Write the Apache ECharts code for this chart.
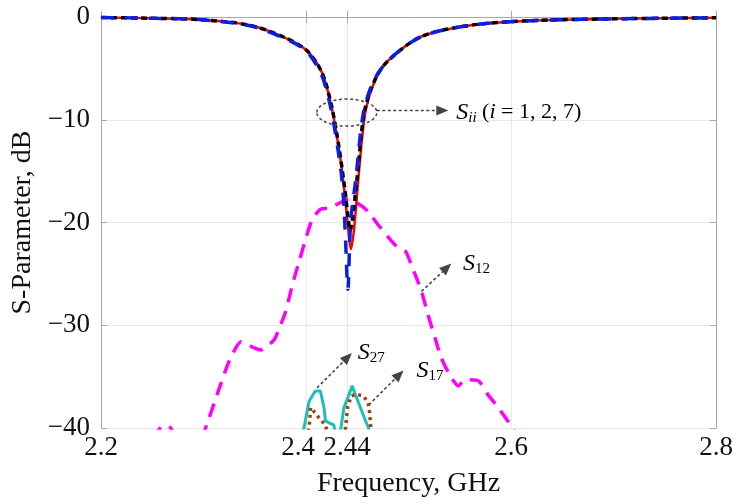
<!DOCTYPE html>
<html>
<head>
<meta charset="utf-8">
<script src="https://cdn.jsdelivr.net/npm/echarts@6/dist/echarts.min.js"></script>
<style>
  html, body { margin: 0; padding: 0; background: #fff; }
  #chart { width: 736px; height: 503px; }
</style>
</head>
<body>
<div id="chart"></div>
<script>
// tick values
const xTicks = [2.2, 2.4, 2.44, 2.6, 2.8];
const yMin = -40, yMax = 0, yStep = 10;

// S_ii curves, [GHz, dB]
const siiRed = [
  [2.20, -0.05], [2.25, -0.12], [2.296, -0.25], [2.345, -0.8], [2.377, -1.9],
  [2.40, -3.2], [2.4155, -5.4], [2.425, -8.8], [2.432, -12.8], [2.437, -16.5],
  [2.441, -20.5], [2.4437, -22.6], [2.447, -20.5], [2.4515, -15.2], [2.458, -9.2],
  [2.4677, -6.1], [2.4806, -4.2], [2.5126, -1.9], [2.561, -0.8], [2.619, -0.36],
  [2.70, -0.18], [2.80, -0.08]
];
const siiBlack = [
  [2.20, -0.05], [2.25, -0.12], [2.296, -0.25], [2.345, -0.8], [2.377, -1.9],
  [2.40, -3.2], [2.4155, -5.4], [2.425, -8.7], [2.432, -12.6], [2.4375, -16.5],
  [2.441, -19.5], [2.443, -20.8], [2.4455, -19.5], [2.45, -15.5], [2.457, -9.2],
  [2.4677, -6.0], [2.4806, -4.2], [2.5126, -1.9], [2.561, -0.8], [2.619, -0.36],
  [2.70, -0.18], [2.80, -0.08]
];
const siiBlue = [
  [2.20, -0.05], [2.25, -0.12], [2.296, -0.25], [2.345, -0.85], [2.377, -2.0],
  [2.40, -3.3], [2.415, -5.6], [2.424, -8.8], [2.431, -12.8], [2.435, -15.8],
  [2.437, -18.5], [2.4385, -21.6], [2.4408, -26.5], [2.4435, -20.0], [2.4485, -15.8],
  [2.456, -9.3], [2.466, -6.2], [2.4806, -4.2], [2.5126, -1.9], [2.561, -0.8],
  [2.619, -0.36], [2.70, -0.18], [2.80, -0.08]
];

// S12 magenta dashed
const s12 = [
  [2.25, -41], [2.258, -40], [2.263, -39.7], [2.268, -40], [2.275, -41.5],
  [2.295, -41.5], [2.303, -39.7], [2.3155, -36.1], [2.325, -33.5], [2.3366, -31.6],
  [2.3495, -32.2], [2.356, -32.4], [2.369, -31.4], [2.3738, -30.3], [2.380, -28.7],
  [2.3866, -26.1], [2.3932, -23.8], [2.3997, -21.6], [2.406, -19.7], [2.4143, -18.7],
  [2.4223, -18.6], [2.435, -18.0], [2.4417, -17.7], [2.4544, -18.4], [2.461, -19.0],
  [2.471, -20.3], [2.487, -22.2], [2.497, -22.8], [2.503, -24.2], [2.5126, -26.7],
  [2.519, -29.0], [2.526, -31.3], [2.532, -33.2], [2.541, -35.0], [2.5485, -35.9],
  [2.555, -35.3], [2.568, -35.4], [2.5777, -36.8], [2.5874, -38.0], [2.60, -39.8],
  [2.61, -41.5]
];

// S27 cyan solid
const s27 = [
  [2.395, -41], [2.398, -40], [2.403, -37.4], [2.409, -36.4], [2.414, -36.4],
  [2.4175, -38], [2.419, -39.3], [2.4225, -39.5], [2.427, -39.7], [2.430, -41],
  [2.431, -41], [2.434, -40], [2.437, -38], [2.4417, -36.8], [2.445, -35.9],
  [2.4483, -36.8], [2.453, -38], [2.458, -39.3], [2.461, -40], [2.463, -41]
];

// S17 brown dotted
const s17 = [
  [2.400, -41], [2.403, -40], [2.4045, -38], [2.407, -38.3], [2.411, -38.8],
  [2.415, -39.3], [2.419, -39.7], [2.422, -41], [2.436, -41], [2.4385, -40],
  [2.4405, -38], [2.444, -36.9], [2.449, -36.7], [2.456, -36.9], [2.4605, -37.5],
  [2.462, -38.5], [2.463, -39.7], [2.4645, -41]
];

const serif = 'Liberation Serif';
const axisGray = '#a8a8a8';
const chart = echarts.init(document.getElementById('chart'), null, { renderer: 'canvas' });

const minus = v => String(v).replace('-', '\u2212');
// 2.4 sits left of its tick in the reference so it doesn't run into 2.44
const xLabel = v => (v === 2.4 ? '{l|2.4}' : String(v));

const option = {
  animation: false,
  backgroundColor: '#fff',
  grid: { left: 101, right: 17, top: 17, bottom: 73, containLabel: false },
  xAxis: [
    {
      type: 'value', min: 2.2, max: 2.8,
      name: 'Frequency, GHz', nameLocation: 'middle', nameGap: 42,
      nameTextStyle: { fontFamily: serif, fontSize: 28, color: '#111' },
      axisLine: { lineStyle: { color: axisGray, width: 1 } },
      axisTick: { inside: true, length: 6, customValues: xTicks, lineStyle: { color: axisGray } },
      axisLabel: { customValues: xTicks, margin: 6, fontFamily: serif, fontSize: 27, color: '#111',
        formatter: xLabel,
        rich: { l: { fontFamily: serif, fontSize: 27, color: '#111', padding: [0, 16, 0, 0] } } },
      splitLine: { show: true, lineStyle: { color: '#e8e8e8', width: 1 } }
    },
    {
      type: 'value', min: 2.2, max: 2.8, position: 'top',
      axisLine: { lineStyle: { color: axisGray, width: 1 } },
      axisTick: { inside: true, length: 6, customValues: xTicks, lineStyle: { color: axisGray } },
      axisLabel: { show: false },
      splitLine: { show: false }
    }
  ],
  yAxis: [
    {
      type: 'value', min: yMin, max: yMax, interval: yStep,
      name: 'S-Parameter, dB', nameLocation: 'middle', nameGap: 60,
      nameTextStyle: { fontFamily: serif, fontSize: 28, color: '#111' },
      axisLine: { show: true, lineStyle: { color: axisGray, width: 1 } },
      axisTick: { show: true, inside: true, length: 6, lineStyle: { color: axisGray } },
      axisLabel: { margin: 11, fontFamily: serif, fontSize: 27, color: '#111', formatter: minus },
      splitLine: { show: true, lineStyle: { color: '#e8e8e8', width: 1 } }
    },
    {
      type: 'value', min: yMin, max: yMax, interval: yStep, position: 'right',
      axisLine: { show: true, lineStyle: { color: axisGray, width: 1 } },
      axisTick: { show: true, inside: true, length: 6, lineStyle: { color: axisGray } },
      axisLabel: { show: false },
      splitLine: { show: false }
    }
  ],
  series: [
    { name: 'S12', type: 'line', data: s12, showSymbol: false, smooth: 0.2, z: 2,
      lineStyle: { color: '#ff00ff', width: 3.5, type: [14, 9] } },
    { name: 'S27', type: 'line', data: s27, showSymbol: false, z: 3,
      lineStyle: { color: '#1cbfbb', width: 3 } },
    { name: 'S17', type: 'line', data: s17, showSymbol: false, z: 4,
      lineStyle: { color: '#a3400e', width: 3.5, type: [3, 4] } },
    { name: 'Sii red', type: 'line', data: siiRed, showSymbol: false, smooth: 0.3, z: 5,
      lineStyle: { color: '#ff0000', width: 2.5 } },
    { name: 'Sii black', type: 'line', data: siiBlack, showSymbol: false, smooth: 0.3, z: 6,
      lineStyle: { color: '#000000', width: 3.5, type: [6, 4] } },
    { name: 'Sii blue', type: 'line', data: siiBlue, showSymbol: false, smooth: 0.3, z: 7,
      lineStyle: { color: '#0a1ee6', width: 3.5, type: [13, 11] } }
  ]
};
chart.setOption(option);

// annotations, anchored in data coordinates
const px = (f, db) => chart.convertToPixel({ xAxisIndex: 0, yAxisIndex: 0 }, [f, db]);
const ink = '#444';

function arrow(from, to) {
  const a = px(from[0], from[1]), b = px(to[0], to[1]);
  const dx = b[0] - a[0], dy = b[1] - a[1];
  const len = Math.hypot(dx, dy), ux = dx / len, uy = dy / len;
  const hl = 12, hw = 5;
  const base = [b[0] - ux * hl, b[1] - uy * hl];
  return [
    { type: 'line', z: 50, shape: { x1: a[0], y1: a[1], x2: base[0], y2: base[1] },
      style: { stroke: ink, lineWidth: 1.6, lineDash: [3, 2.5] } },
    { type: 'polygon', z: 50, shape: { points: [b, [base[0] - uy * hw, base[1] + ux * hw], [base[0] + uy * hw, base[1] - ux * hw]] },
      style: { fill: ink } }
  ];
}

const richStyles = {
  s: { fontFamily: serif, fontStyle: 'italic', fontSize: 24, color: '#222', lineHeight: 26 },
  sub: { fontFamily: serif, fontStyle: 'italic', fontSize: 15, color: '#222', verticalAlign: 'bottom', lineHeight: 14 },
  subn: { fontFamily: serif, fontSize: 15, color: '#222', verticalAlign: 'bottom', lineHeight: 14 },
  t: { fontFamily: serif, fontSize: 22, color: '#222', lineHeight: 26 },
  it: { fontFamily: serif, fontStyle: 'italic', fontSize: 22, color: '#222', lineHeight: 26 }
};
function label(at, txt) {
  const p = px(at[0], at[1]);
  return { type: 'text', z: 50, x: p[0], y: p[1],
    style: { text: txt, rich: richStyles, align: 'left', verticalAlign: 'middle' } };
}

const ec = px(2.4398, -9.3);
const graphics = [
  { type: 'ellipse', z: 50, shape: { cx: ec[0], cy: ec[1], rx: 30, ry: 13.5 },
    style: { fill: 'none', stroke: ink, lineWidth: 1.5, lineDash: [3, 2.5] } },
  ...arrow([2.469, -9.1], [2.5388, -9.1]),
  label([2.5465, -9.3], '{s|S}{sub|ii}{t| (}{it|i}{t| = 1, 2, 7)}'),
  ...arrow([2.5126, -26.7], [2.5417, -24.0]),
  label([2.553, -24.0], '{s|S}{subn|12}'),
  ...arrow([2.4107, -36.1], [2.4447, -32.7]),
  label([2.4505, -32.7], '{s|S}{subn|27}'),
  ...arrow([2.4612, -37.75], [2.4951, -34.4]),
  label([2.5078, -34.4], '{s|S}{subn|17}')
];
chart.setOption({ graphic: graphics });
</script>
</body>
</html>
